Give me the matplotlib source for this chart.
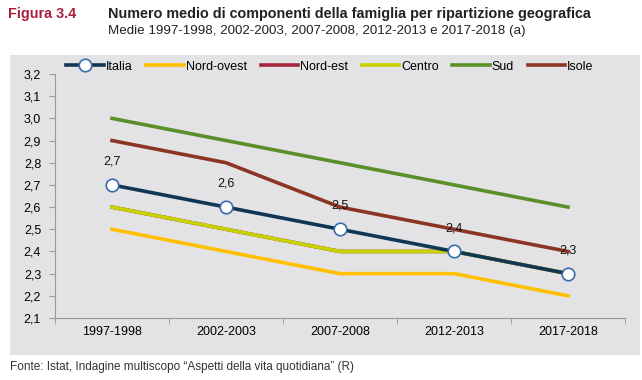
import numpy as np
import matplotlib.pyplot as plt
from matplotlib.patches import Rectangle

plt.rcParams['font.family'] = ['Liberation Sans', 'DejaVu Sans']

periodi = ['1997-1998', '2002-2003', '2007-2008', '2012-2013', '2017-2018']
italia = [2.7, 2.6, 2.5, 2.4, 2.3]
nord_ovest = [2.5, 2.4, 2.3, 2.3, 2.2]
nord_est = [2.6, 2.5, 2.4, 2.4, 2.3]
centro = [2.6, 2.5, 2.4, 2.4, 2.3]
sud = [3.0, 2.9, 2.8, 2.7, 2.6]
isole = [2.9, 2.8, 2.6, 2.5, 2.4]
etichette_italia = ['2,7', '2,6', '2,5', '2,4', '2,3']

fig = plt.figure(figsize=(6.42, 3.8), dpi=100)
fig.patches.append(Rectangle((10 / 642, 1 - 355 / 380), 630 / 642, 300 / 380,
                             transform=fig.transFigure, facecolor='#e3e3e6',
                             edgecolor='none', zorder=-10))

fig.text(8 / 642, 1 - 14 / 380, 'Figura 3.4', color='#a8203f', fontsize=10.4,
         fontweight='bold', va='center')
fig.text(108 / 642, 1 - 14 / 380, 'Numero medio di componenti della famiglia per ripartizione geografica',
         color='#222222', fontsize=10.4, fontweight='bold', va='center')
fig.text(108 / 642, 1 - 31 / 380, 'Medie 1997-1998, 2002-2003, 2007-2008, 2012-2013 e 2017-2018 (a)',
         color='#222222', fontsize=9.6, va='center')
fig.text(10 / 642, 1 - 367 / 380, 'Fonte: Istat, Indagine multiscopo \u201cAspetti della vita quotidiana\u201d (R)',
         color='#333333', fontsize=8.5, va='center')

ax = fig.add_axes([55 / 642, 1 - 318 / 380, 570 / 642, 244 / 380])
ax.set_facecolor('none')
x = np.arange(len(periodi))
lw = 2.6
ax.plot(x, nord_ovest, color='#ffc000', lw=lw, label='Nord-ovest', zorder=2)
ax.plot(x, nord_est, color='#a3243b', lw=lw, label='Nord-est', zorder=2)
ax.plot(x, centro, color='#c6d300', lw=lw, label='Centro', zorder=3)
ax.plot(x, sud, color='#5a8f2a', lw=lw, label='Sud', zorder=2)
ax.plot(x, isole, color='#8b3522', lw=lw, label='Isole', zorder=2)
ax.plot(x, italia, color='#0f3653', lw=lw, marker='o', markersize=9,
        markerfacecolor='white', markeredgecolor='#3a6cad', markeredgewidth=1.2,
        label='Italia', zorder=4)
for xi, yi, t in zip(x, italia, etichette_italia):
    ax.text(xi, yi + 0.105, t, ha='center', va='center', fontsize=9, color='#111111', zorder=5)

ax.set_xlim(-0.5, len(periodi) - 0.5)
ax.set_ylim(2.1, 3.2)
ax.set_yticks(np.arange(2.1, 3.21, 0.1))
ax.set_yticklabels([f'{v:.1f}'.replace('.', ',') for v in np.arange(2.1, 3.21, 0.1)])
ax.set_xticks(x)
ax.set_xticklabels(periodi)
ax.set_xticks(np.arange(-0.5, len(periodi)), minor=True)
ax.tick_params(axis='x', which='major', length=0, pad=6, labelsize=9)
ax.tick_params(axis='x', which='minor', length=4, color='#999999')
ax.tick_params(axis='y', length=4, color='#999999', labelsize=9, pad=6)
for s in ['top', 'right']:
    ax.spines[s].set_visible(False)
for s in ['left', 'bottom']:
    ax.spines[s].set_color('#999999')

handles, labels = ax.get_legend_handles_labels()
order = [5, 0, 1, 2, 3, 4]
ax.legend([handles[i] for i in order], [labels[i] for i in order], ncol=6,
          loc='center left', bbox_to_anchor=(0.02, 1.03), frameon=False,
          fontsize=9, handlelength=3.0, handletextpad=0.15, columnspacing=1.1,
          borderaxespad=0, borderpad=0)

fig.savefig('out.png', dpi=100)
